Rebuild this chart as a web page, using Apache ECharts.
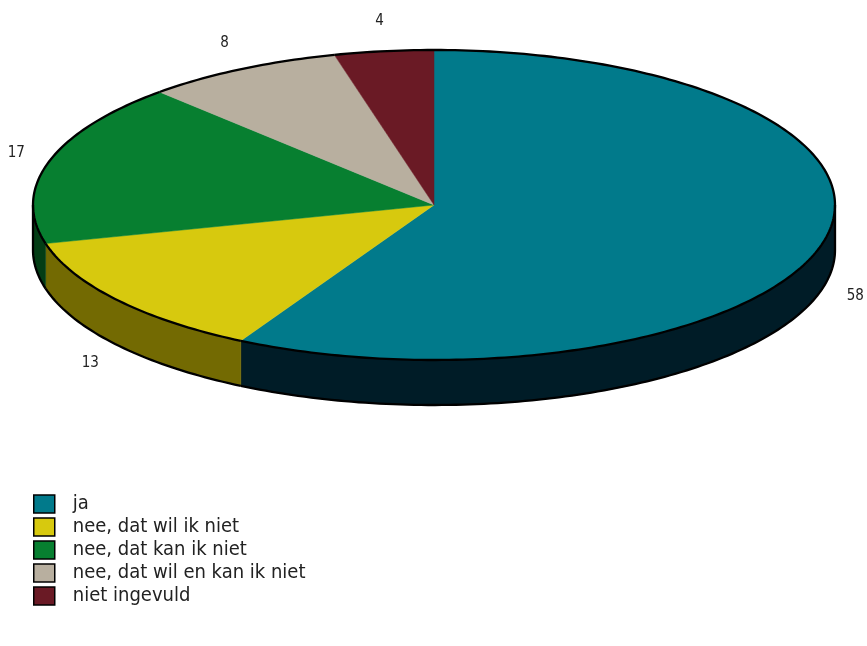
<!DOCTYPE html>
<html><head><meta charset="utf-8">
<script src="https://cdn.jsdelivr.net/npm/echarts@6/dist/echarts.min.js"></script>
<style>html,body{margin:0;padding:0;background:#fff}#c{width:867px;height:646px}</style>
</head><body><div id="c"></div>
<script>
var categories = ['ja', 'nee, dat wil ik niet', 'nee, dat kan ik niet', 'nee, dat wil en kan ik niet', 'niet ingevuld'];
var values = [58, 13, 17, 8, 4];
var topColors = ['#017a8b', '#d7c90e', '#077f30', '#b8af9f', '#6a1a25'];
var sideColors = ['#001c27', '#736a02', '#033d15', '#5c574f', '#350d12'];

var CX = 434, CY = 205, RX = 401, RY = 155, DEPTH = 45;
var total = values.reduce(function (a, b) { return a + b; }, 0);
function pt(t, dy) {
  var r = t * Math.PI / 180;
  return [CX + RX * Math.sin(r), CY - RY * Math.cos(r) + (dy || 0)];
}
function arc(a0, a1, dy) {
  var pts = [], n = Math.max(2, Math.ceil(Math.abs(a1 - a0) / 1));
  for (var k = 0; k <= n; k++) pts.push(pt(a0 + (a1 - a0) * k / n, dy));
  return pts;
}
function makeRender(i) {
  return function (params, api) {
    var start = 0;
    for (var j = 0; j < i; j++) start += values[j];
    var a0 = start / total * 360;
    var a1 = (start + values[i]) / total * 360;
    var children = [];
    children.push({ type: 'polygon', z2: 10, shape: { points: [[CX, CY]].concat(arc(a0, a1)) },
      style: { fill: topColors[i], stroke: topColors[i], lineWidth: 0.5 } });
    children.push({ type: 'polyline', z2: 30, shape: { points: arc(a0, a1) },
      style: { fill: null, stroke: '#000', lineWidth: 2.3 } });
    var s0 = Math.max(a0, 90), s1 = Math.min(a1, 270);
    if (s1 > s0) {
      var topArc = arc(s0, s1), botArc = arc(s0, s1, DEPTH);
      children.push({ type: 'polygon', z2: 5, shape: { points: topArc.concat(botArc.slice().reverse()) },
        style: { fill: sideColors[i], stroke: sideColors[i], lineWidth: 0.5 } });
      children.push({ type: 'polyline', z2: 30, shape: { points: botArc },
        style: { fill: null, stroke: '#000', lineWidth: 2.3 } });
      if (s0 === 90) children.push({ type: 'line', z2: 30, shape: { x1: pt(90)[0], y1: pt(90)[1], x2: pt(90, DEPTH)[0], y2: pt(90, DEPTH)[1] }, style: { stroke: '#000', lineWidth: 2.3 } });
      if (s1 === 270) children.push({ type: 'line', z2: 30, shape: { x1: pt(270)[0], y1: pt(270)[1], x2: pt(270, DEPTH)[0], y2: pt(270, DEPTH)[1] }, style: { stroke: '#000', lineWidth: 2.3 } });
    }
    var m = (a0 + a1) / 2, mr = m * Math.PI / 180;
    var lx = CX + (RX + 34) * Math.sin(mr);
    var ly = CY - (RY + 30) * Math.cos(mr) + (Math.cos(mr) < 0 ? DEPTH : 0);
    children.push({ type: 'text', z2: 40, x: lx, y: ly,
      style: { text: String(api.value(0)), fill: '#222', font: '15px "DejaVu Sans Condensed", sans-serif', align: 'center', verticalAlign: 'middle' } });
    return { type: 'group', children: children };
  };
}
var series = categories.map(function (name, i) {
  return { type: 'custom', name: name, coordinateSystem: 'none', data: [values[i]],
    itemStyle: { color: topColors[i] }, renderItem: makeRender(i), silent: true, animation: false };
});
var chart = echarts.init(document.getElementById('c'), null, { renderer: 'canvas' });
chart.setOption({
  animation: false,
  legend: {
    orient: 'vertical', left: 28, top: 489, padding: 5, icon: 'rect', itemWidth: 21, itemHeight: 18, itemGap: 3,
    data: categories.map(function (n, i) { return { name: n, itemStyle: { color: topColors[i], borderColor: '#000', borderWidth: 1.5 } }; }),
    textStyle: { fontSize: 20, lineHeight: 18, color: '#222', fontFamily: '"DejaVu Sans Condensed", sans-serif', padding: [0, 0, 0, 13] },
    selectedMode: false
  },
  series: series
});
</script></body></html>
